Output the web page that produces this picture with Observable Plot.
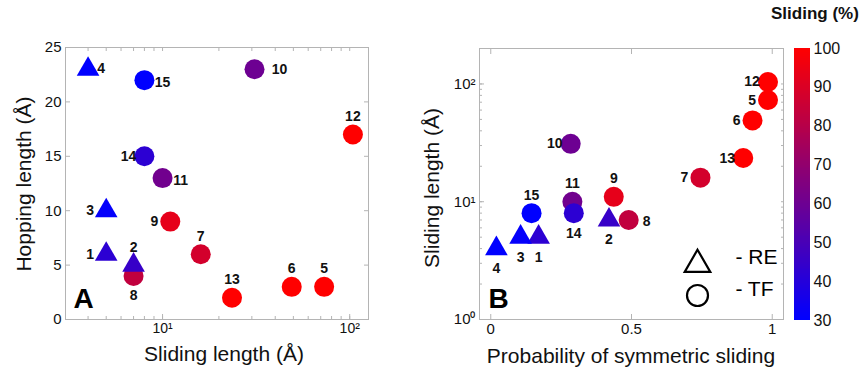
<!DOCTYPE html>
<html>
<head>
<meta charset="utf-8">
<script src="https://cdn.jsdelivr.net/npm/d3@7"></script>
<script src="https://cdn.jsdelivr.net/npm/@observablehq/plot@0.6"></script>
<style>
  html, body { margin: 0; padding: 0; background: #fff; }
  #wrap { position: relative; width: 864px; height: 368px; font-family: Arial, "Liberation Sans", sans-serif; overflow: hidden; }
  .panel { position: absolute; top: 0; }
  #ctitle { position: absolute; top: 4px; left: 771px; font: bold 17px Arial, "Liberation Sans", sans-serif; color: #111; }
  .lab { position: absolute; font: 21px Arial, "Liberation Sans", sans-serif; color: #111; white-space: nowrap; line-height: 1; }
  .xlab { transform: translate(-50%, -50%); }
  .ylab { transform: translate(-50%, -50%) rotate(-90deg); }
</style>
</head>
<body>
<div id="wrap">
  <div class="panel" id="pa" style="left:0px"></div>
  <div class="panel" id="pb" style="left:400px"></div>
  <div class="panel" id="pc" style="left:780px"></div>
  <div id="ctitle">Sliding (%)</div>
  <div class="lab ylab" style="left:23px; top:184px">Hopping length (Å)</div>
  <div class="lab xlab" style="left:224px; top:353px">Sliding length (Å)</div>
  <div class="lab ylab" style="left:431px; top:188px">Sliding length (Å)</div>
  <div class="lab xlab" style="left:631px; top:355px">Probability of symmetric sliding</div>
</div>
<script>
// ---- data ----
const ids          = [1, 2, 3, 4, 5, 6, 7, 8, 9, 10, 11, 12, 13, 14, 15];
const proteinType  = ["RE","RE","RE","RE","TF","TF","TF","TF","TF","TF","TF","TF","TF","TF","TF"];
const slidingLen   = [5, 7, 5, 4, 73, 49, 16, 7, 11, 31, 10, 104, 23.5, 8, 8];
const hoppingLen   = [6, 5, 10, 23, 3, 3, 6, 4, 9, 23, 13, 17, 2, 15, 22];
const probSym      = [0.17, 0.42, 0.106, 0.02, 0.985, 0.93, 0.745, 0.49, 0.437, 0.284, 0.29, 0.985, 0.897, 0.295, 0.145];
const slidingPct   = [42, 45, 31, 30, 100, 100, 88, 83, 93, 60, 61, 100, 100, 42, 30];
const colorTicks   = [30, 40, 50, 60, 70, 80, 90, 100];

// label placement (layout, not data)
const placeA = {1:"l",2:"t",3:"l",4:"r4",5:"t",6:"t",7:"t",8:"b",9:"l",10:"rr",11:"r",12:"t",13:"t",14:"l",15:"r"};
const placeB = {1:"b",2:"b",3:"b",4:"b",5:"l",6:"l",7:"l",8:"r",9:"t",10:"l",11:"t",12:"l",13:"l",14:"b",15:"t"};

const rows = ids.map((id, i) => ({
  id, type: proteinType[i], sl: slidingLen[i], hop: hoppingLen[i], p: probSym[i], pct: slidingPct[i]
}));

const colorScale = {type: "linear", domain: [30, 100], range: ["#0000ff", "#ff0000"], interpolate: "rgb"};
const FONT = "Arial, 'Liberation Sans', sans-serif";
const gray = "#b4b4b4";
const sup = {"0":"⁰","1":"¹","2":"²"};
const pow10 = d => "10" + sup[String(Math.round(Math.log10(d)))];

function offs(code) {
  switch (code) {
    case "l": return [-16, 0];
    case "r": return [18, 2];
    case "rr": return [25, 0];
    case "r4": return [13, -1];
    case "t": return [0, -18];
    case "b": return [0, 20];
  }
}
function labelMarks(place, xk, yk) {
  return ["l","r","rr","r4","t","b"].map(code => {
    const [dx, dy] = offs(code);
    return Plot.text(rows.filter(d => place[d.id] === code), {
      x: xk, y: yk, text: d => String(d.id), dx, dy,
      fontWeight: "bold", fontSize: 14, fill: "#111"
    });
  });
}
function pointMarks(xk, yk) {
  return [
    Plot.dot(rows.filter(d => d.type === "TF"), {x: xk, y: yk, r: 10, fill: "pct", symbol: "circle"}),
    Plot.dot(rows.filter(d => d.type === "RE"), {x: xk, y: yk, r: 8.4, fill: "pct", symbol: "triangle"})
  ];
}
const minorLog = (lo, hi) => {
  const out = [];
  for (let e = Math.floor(Math.log10(lo)); e <= Math.ceil(Math.log10(hi)); e++)
    for (let m = 1; m < 10; m++) { const v = m * 10 ** e; if (v >= lo && v <= hi) out.push(v); }
  return out;
};

// ---- Panel A ----
const xDomA = [3.03, 126];
const plotA = Plot.plot({
  width: 380, height: 368,
  marginLeft: 65, marginRight: 12, marginTop: 47, marginBottom: 49,
  style: {fontFamily: FONT, background: "transparent"},
  x: {type: "log", domain: xDomA},
  y: {domain: [0, 25]},
  color: colorScale,
  marks: [
    Plot.frame({stroke: gray}),
    Plot.axisX(minorLog(...xDomA), {anchor: "bottom", tickSize: -3, tickFormat: () => "", stroke: gray, label: null}),
    Plot.axisX(minorLog(...xDomA), {anchor: "top", tickSize: -3, tickFormat: () => "", stroke: gray, label: null}),
    Plot.axisX([10, 100], {anchor: "bottom", tickSize: -5, tickPadding: 9, stroke: gray, fill: "#111", fontSize: 14, tickFormat: pow10, label: null}),
    Plot.axisY([0,5,10,15,20,25], {anchor: "left", tickSize: -5, tickPadding: 9, stroke: gray, fill: "#111", fontSize: 15, label: null}),
    Plot.axisY([0,5,10,15,20,25], {anchor: "right", tickSize: -5, tickFormat: () => "", stroke: gray, label: null}),
    ...pointMarks("sl", "hop"),
    ...labelMarks(placeA, "sl", "hop"),
    Plot.text(["A"], {frameAnchor: "bottom-left", dx: 8, dy: -12, fontSize: 28, fontWeight: "bold", fill: "#000", lineAnchor: "bottom"})
  ]
});

// ---- Panel B ----
const yDomB = [1, 200];
const plotB = Plot.plot({
  width: 400, height: 368,
  marginLeft: 79, marginRight: 17, marginTop: 48, marginBottom: 49,
  style: {fontFamily: FONT, background: "transparent"},
  x: {domain: [-0.04, 1.04]},
  y: {type: "log", domain: yDomB},
  color: colorScale,
  marks: [
    Plot.frame({stroke: gray}),
    Plot.axisY(minorLog(...yDomB), {anchor: "left", tickSize: -3, tickFormat: () => "", stroke: gray, label: null}),
    Plot.axisY(minorLog(...yDomB), {anchor: "right", tickSize: -3, tickFormat: () => "", stroke: gray, label: null}),
    Plot.axisY([1, 10, 100], {anchor: "left", tickSize: -5, tickPadding: 9, stroke: gray, fill: "#111", fontSize: 15, tickFormat: pow10, label: null}),
    Plot.axisX([0, 0.5, 1], {anchor: "bottom", tickSize: -5, tickPadding: 9, stroke: gray, fill: "#111", fontSize: 15, tickFormat: d => String(d), label: null}),
    Plot.axisX([0, 0.5, 1], {anchor: "top", tickSize: -5, tickFormat: () => "", stroke: gray, label: null}),
    ...pointMarks("p", "sl"),
    ...labelMarks(placeB, "p", "sl"),
    Plot.text(["B"], {frameAnchor: "bottom-left", dx: 9, dy: -12, fontSize: 28, fontWeight: "bold", fill: "#000", lineAnchor: "bottom"}),
    // legend
    Plot.dot(["RE"], {frameAnchor: "bottom-right", dx: -86, dy: -55, symbol: "triangle", r: 9.5, stroke: "#000", strokeWidth: 2.2, fill: "none"}),
    Plot.dot(["TF"], {frameAnchor: "bottom-right", dx: -86, dy: -24, symbol: "circle", r: 10.5, stroke: "#000", strokeWidth: 2.2, fill: "none"}),
    Plot.text(["- RE"], {frameAnchor: "bottom-right", dx: -6, dy: -56, textAnchor: "end", fontSize: 21, fill: "#000"}),
    Plot.text(["- TF"], {frameAnchor: "bottom-right", dx: -10, dy: -24, textAnchor: "end", fontSize: 21, fill: "#000"})
  ]
});

// ---- Colorbar ----
const bands = d3.range(30, 100, 0.5).map(v => ({lo: v, hi: v + 0.5, mid: v + 0.25}));
const plotC = Plot.plot({
  width: 84, height: 368,
  marginLeft: 14, marginRight: 54, marginTop: 48, marginBottom: 48,
  style: {fontFamily: FONT, background: "transparent"},
  y: {domain: [30, 100]},
  color: colorScale,
  marks: [
    Plot.rectY(bands, {y1: "lo", y2: "hi", fill: "mid", shapeRendering: "crispEdges"}),
    Plot.axisY(colorTicks, {anchor: "right", tickSize: 0, tickPadding: 3, fontSize: 16, fill: "#111", label: null, tickFormat: d => String(d)})
  ]
});

document.getElementById("pa").appendChild(plotA);
document.getElementById("pb").appendChild(plotB);
document.getElementById("pc").appendChild(plotC);
</script>
</body>
</html>
